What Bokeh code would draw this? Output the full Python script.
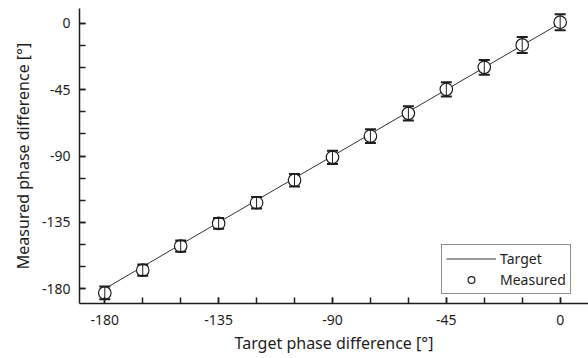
from bokeh.plotting import figure
from bokeh.models import (ColumnDataSource, Range1d, FixedTicker, Whisker, TeeHead,
                          Legend, LegendItem)
from bokeh.embed import file_html
from bokeh.resources import INLINE

# ---- data ----
target = [-180, -165, -150, -135, -120, -105, -90, -75, -60, -45, -30, -15, 0]
measured = [-182.8, -167.4, -151.1, -135.7, -121.7, -106.4, -90.9, -76.5, -61.1,
            -44.8, -29.9, -14.7, 0.7]
err = [4.3, 3.8, 3.8, 3.6, 3.9, 4.2, 4.5, 4.7, 4.8, 4.8, 5.0, 5.4, 5.4]
major_ticks = [-180, -135, -90, -45, 0]
tick_labels = ["-180", "-135", "-90", "-45", "0"]
minor_ticks = list(range(-180, 1, 15))

FONT = "Noto Sans"
INK = "#1e1e1e"

src = ColumnDataSource(dict(
    x=target, y=measured,
    lo=[m - e for m, e in zip(measured, err)],
    hi=[m + e for m, e in zip(measured, err)],
))
line_src = ColumnDataSource(dict(x=target, y=target))

p = figure(width=588, height=358, output_backend="svg", toolbar_location=None,
           x_range=Range1d(-190, 11.2), y_range=Range1d(-190, 10),
           min_border_left=79, min_border_right=0, min_border_top=8,
           min_border_bottom=55)
p.background_fill_color = "white"
p.border_fill_color = "white"
p.outline_line_color = None
p.xgrid.visible = False
p.ygrid.visible = False

target_r = p.line("x", "y", source=line_src, line_color="#333333", line_width=1)

wh = Whisker(base="x", lower="lo", upper="hi", source=src, dimension="height",
             line_color=INK, line_width=1,
             upper_head=TeeHead(size=11, line_color=INK, line_width=2),
             lower_head=TeeHead(size=11, line_color=INK, line_width=2),
             level="glyph")
p.add_layout(wh)

meas_r = p.scatter("x", "y", source=src, size=12.5, marker="circle",
                   fill_color="white", line_color=INK, line_width=1.2)

for ax, lab, st, lst in ((p.xaxis[0], "Target phase difference [°]", 11, 4),
                         (p.yaxis[0], "Measured phase difference [°]", 9, 5)):
    ax.ticker = FixedTicker(ticks=major_ticks, minor_ticks=minor_ticks)
    ax.major_label_overrides = {t: s for t, s in zip(major_ticks, tick_labels)}
    ax.axis_label = lab
    ax.axis_label_text_font = FONT
    ax.axis_label_text_font_size = "16px"
    ax.axis_label_text_font_style = "normal"
    ax.axis_label_text_color = INK
    ax.major_label_text_font = FONT
    ax.major_label_text_font_size = "14px"
    ax.major_label_text_color = INK
    ax.axis_line_color = INK
    ax.axis_line_width = 1.5
    ax.major_tick_line_color = INK
    ax.minor_tick_line_color = INK
    ax.major_tick_line_width = 1.5
    ax.minor_tick_line_width = 1.5
    ax.major_tick_in = 6
    ax.major_tick_out = 0
    ax.minor_tick_in = 6
    ax.minor_tick_out = 0
    ax.major_label_standoff = st
    ax.axis_label_standoff = lst

legend = Legend(items=[LegendItem(label="Target", renderers=[target_r]),
                       LegendItem(label="Measured", renderers=[meas_r])],
                location=(362, 9))
legend.label_text_font = FONT
legend.label_text_font_size = "14px"
legend.label_text_color = INK
legend.border_line_color = INK
legend.border_line_width = 1
legend.background_fill_alpha = 1
legend.padding = 4
legend.spacing = 2
legend.margin = 0
legend.glyph_width = 50
legend.glyph_height = 17
legend.label_height = 17
legend.label_standoff = 4
p.add_layout(legend, "center")

open("out.html", "w").write(file_html(p, INLINE))
